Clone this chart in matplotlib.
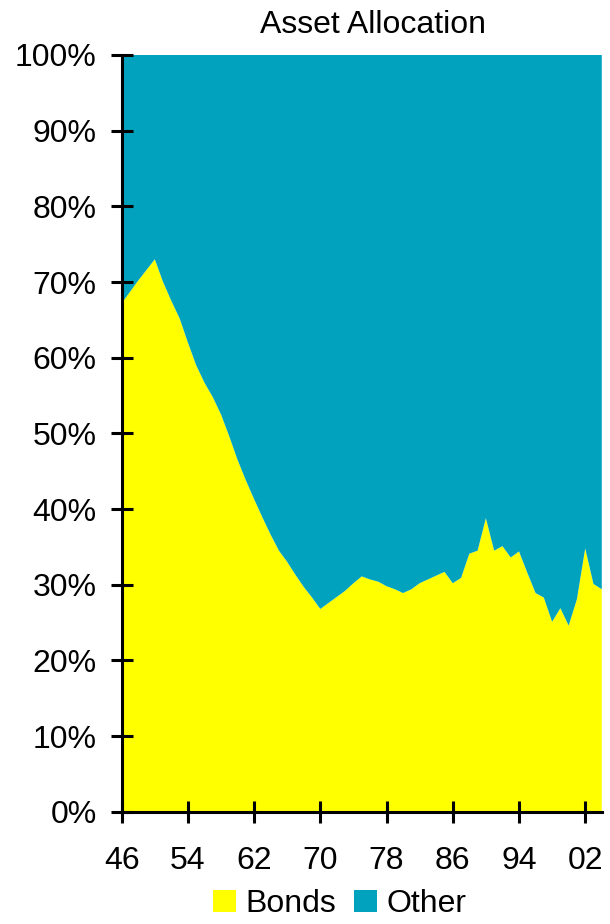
import numpy as np
import matplotlib
matplotlib.use('Agg')
from matplotlib import pyplot as plt
from matplotlib.ticker import FuncFormatter

years = list(range(1946, 2005))
bonds = [67.2, 68.7, 70.2, 71.6, 73.0, 70.0, 67.5, 65.2, 62.0, 59.0,
         56.7, 54.8, 52.5, 49.6, 46.5, 43.8, 41.3, 38.9, 36.6, 34.5,
         33.0, 31.3, 29.7, 28.3, 26.8, 27.6, 28.4, 29.2, 30.2, 31.1,
         30.7, 30.4, 29.8, 29.4, 28.9, 29.4, 30.2, 30.7, 31.2, 31.7,
         30.2, 30.9, 34.1, 34.5, 38.8, 34.5, 35.1, 33.6, 34.4, 31.6,
         28.9, 28.3, 25.1, 26.9, 24.6, 28.1, 34.8, 30.1, 29.4]
other = [100 - b for b in bonds]
xticks = list(range(1946, 2003, 8))

plt.rcParams['font.family'] = ['Liberation Sans', 'DejaVu Sans']

fig = plt.figure(figsize=(6.1, 9.24), dpi=100)
ax = fig.add_axes([0.1995, 0.1215, 0.787, 0.819])

ax.stackplot(years, bonds, other, colors=['#FFFF00', '#00A2BE'],
             labels=['Bonds', 'Other'])

ax.set_xlim(1946, 2004)
ax.set_ylim(0, 100)
ax.set_xticks(xticks)
ax.xaxis.set_major_formatter(FuncFormatter(lambda v, p: '%02d' % (int(v) % 100)))
ax.set_yticks(np.arange(0, 101, 10))
ax.yaxis.set_major_formatter(FuncFormatter(lambda v, p: '%d%%' % v))

for s in ['top', 'right']:
    ax.spines[s].set_visible(False)
for s in ['left', 'bottom']:
    ax.spines[s].set_linewidth(2.2)
ax.tick_params(direction='inout', length=16, width=2.2, labelsize=23)
ax.tick_params(axis='y', pad=10)
ax.tick_params(axis='x', pad=17)

fig.text(373 / 610, 1 - 33 / 924, 'Asset Allocation', ha='center',
         va='baseline', fontsize=23)

fig.legend(loc='lower center', bbox_to_anchor=(340 / 610, -0.012), ncol=2,
           frameon=False, fontsize=23, handlelength=0.72, handleheight=0.72,
           handletextpad=0.3, columnspacing=0.55, borderpad=0.0)

plt.savefig('out.png', dpi=100)
